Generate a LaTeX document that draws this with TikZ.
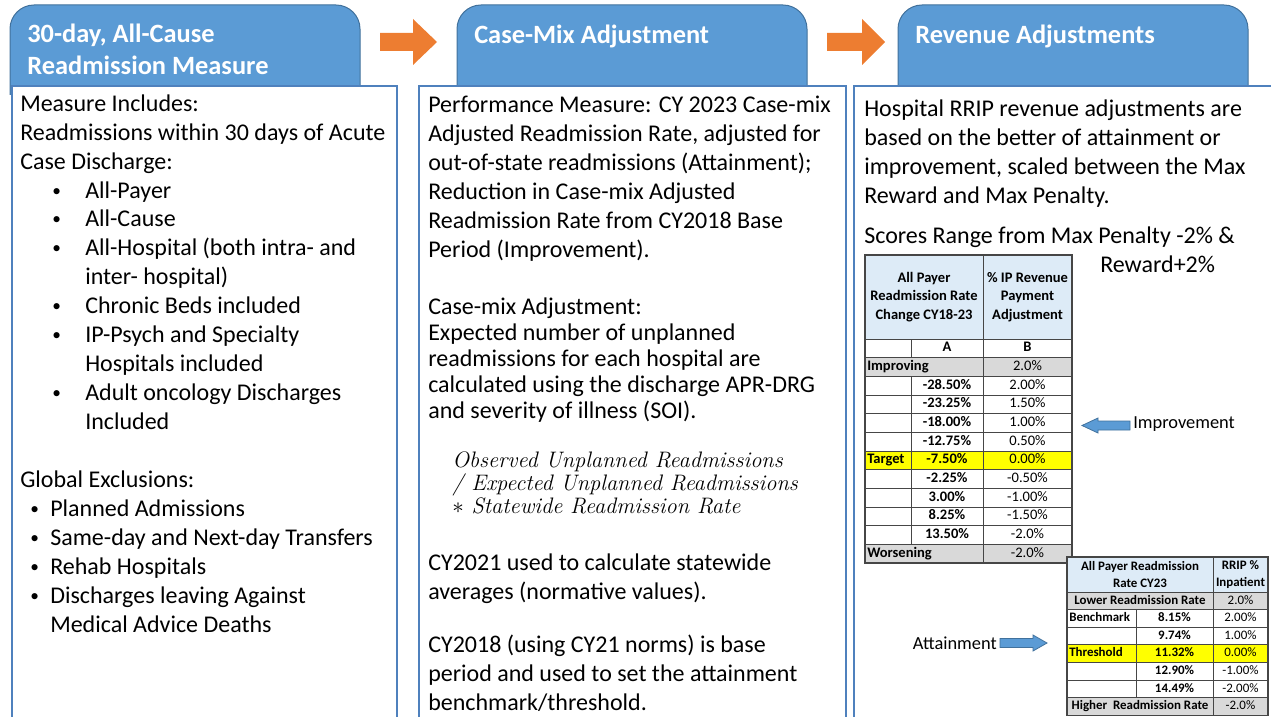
\documentclass[tikz,border=0pt]{standalone}
\usepackage{fontspec}
\usepackage{tikz}
\newfontfamily\calibri{Carlito}
\definecolor{tabblue}{RGB}{91,155,213}
\definecolor{tabedge}{RGB}{65,113,156}
\definecolor{boxedge}{RGB}{79,129,189}
\definecolor{arrorange}{RGB}{237,125,49}
\definecolor{hdrblue}{RGB}{221,235,247}
\definecolor{cellgray}{RGB}{217,217,217}
\definecolor{cellyellow}{RGB}{255,255,0}
\definecolor{gridgray}{RGB}{70,70,70}
\newcommand{\dotmark}{\raisebox{1.5pt}{\fontsize{13}{13}\selectfont\textbullet}}
\newcommand{\bulin}{\hspace*{24pt}\makebox[24.75pt][l]{\dotmark}}
\newcommand{\bulcont}{\hspace*{48.75pt}}
\newcommand{\bulout}{\hspace*{7.5pt}\makebox[15pt][l]{\dotmark}}

\begin{document}
\begin{tikzpicture}[x=0.75pt, y=-0.75pt,
    tab/.style={fill=tabblue, draw=tabedge, line width=0.75pt, rounded corners=18pt},
    panel/.style={fill=white, draw=boxedge, line width=0.9pt},
    tabtext/.style={anchor=base west, align=left, inner sep=0pt, text=white,
        font=\calibri\bfseries\fontsize{19.8}{24}\selectfont},
    body/.style={anchor=base west, align=left, inner sep=0pt,
        font=\calibri\fontsize{18}{21.7}\selectfont},
    grid/.style={draw=gridgray, line width=0.5pt},
    thead/.style={inner sep=0pt, align=center, font=\calibri\bfseries\fontsize{10.9}{13.7}\selectfont},
    tcell/.style={inner sep=0pt, text height=7.6pt, text depth=2.2pt, font=\calibri\fontsize{10.9}{13.7}\selectfont},
    tbold/.style={tcell, font=\calibri\bfseries\fontsize{10.9}{13.7}\selectfont},
    shead/.style={inner sep=0pt, align=center, font=\calibri\bfseries\fontsize{9.7}{12.75}\selectfont},
    scell/.style={inner sep=0pt, text height=6.8pt, text depth=2pt, font=\calibri\fontsize{9.7}{12.75}\selectfont},
    sbold/.style={scell, font=\calibri\bfseries\fontsize{9.7}{12.75}\selectfont},
    flowarrow/.style={fill=arrorange},
    bluearrow/.style={fill=tabblue, draw=tabedge, line width=0.6pt},
    note/.style={inner sep=0pt, font=\calibri\fontsize{13.8}{16}\selectfont}]
\useasboundingbox (0,0) rectangle (1271,717);

% header tabs
\filldraw[tab] (10,95) -- (10,5) -- (360,5) -- (360,95);
\filldraw[tab] (457,95) -- (457,5) -- (807,5) -- (807,95);
\filldraw[tab] (898,95) -- (898,5) -- (1248,5) -- (1248,95);
% multi-line nodes sit on the baseline of their last line
\node[tabtext] (tabmeasure) at (27,74.5) {30-day, All-Cause\\Readmission Measure};
\node[tabtext] (tabcasemix) at (474,43.5) {Case-Mix Adjustment};
\node[tabtext] (tabrevenue) at (915,43.5) {Revenue Adjustments};

% orange flow arrows
\fill[flowarrow] (380,33) -- (413,33) -- (413,19) -- (437,42) -- (413,65) -- (413,51) -- (380,51) -- cycle;
\fill[flowarrow] (827,33) -- (862,33) -- (862,19) -- (885,42) -- (862,65) -- (862,51) -- (827,51) -- cycle;

% panels
\draw[panel] (12,86) rectangle (397,730);
\draw[panel] (419,86) rectangle (846,730);
\draw[panel] (854,86) rectangle (1290,730);

% measure panel
\node[body] (includes) at (20,632) {Measure Includes:\\
  Readmissions within 30 days of Acute\\
  Case Discharge:\\
  \bulin All-Payer\\
  \bulin All-Cause\\
  \bulin All-Hospital (both intra- and\\
  \bulcont inter- hospital)\\
  \bulin Chronic Beds included\\
  \bulin IP-Psych and Specialty\\
  \bulcont Hospitals included\\
  \bulin Adult oncology Discharges\\
  \bulcont Included\\[21.7pt]
  Global Exclusions:\\
  \bulout Planned Admissions\\
  \bulout Same-day and Next-day Transfers\\
  \bulout Rehab Hospitals\\
  \bulout Discharges leaving Against\\
  \hspace*{22.5pt}Medical Advice Deaths};

% case-mix panel
\node[body] (perf) at (428,257) {Performance Measure: CY 2023 Case-mix\\
  Adjusted Readmission Rate, adjusted for\\
  out-of-state readmissions (Attainment);\\
  Reduction in Case-mix Adjusted\\
  Readmission Rate from CY2018 Base\\
  Period (Improvement).};
\node[body, font=\calibri\fontsize{18}{19.5}\selectfont] (cmix) at (428,418) {Case-mix Adjustment:\\
  Expected number of unplanned\\
  readmissions for each hospital are\\
  calculated using the discharge APR-DRG\\
  and severity of illness (SOI).};
\node[body, font=\rmfamily\itshape\fontsize{16.8}{17.2}\selectfont] (formula) at (452,513) {Observed Unplanned Readmissions\\
  / Expected Unplanned Readmissions\\
  $\ast$ Statewide Readmission Rate};
\node[body] (norms) at (428,599) {CY2021 used to calculate statewide\\
  averages (normative values).};
\node[body] (base) at (428,710) {CY2018 (using CY21 norms) is base\\
  period and used to set the attainment\\
  benchmark/threshold.};

% revenue panel
\node[body] (rrip) at (864,203) {Hospital RRIP revenue adjustments are\\
  based on the better of attainment or\\
  improvement, scaled between the Max\\
  Reward and Max Penalty.};
\node[body] (scores) at (864,243) {Scores Range from Max Penalty -2\% \&};
\node[body] (reward) at (1100,272) {Reward+2\%};

% improvement table
\fill[hdrblue] (865,255) rectangle (1072,339);
\fill[cellgray] (865,357.7) rectangle (1072,376.3);
\fill[cellgray] (865,544.3) rectangle (1072,563);
\fill[cellyellow] (865,451) rectangle (1072,469.7);
\foreach \k in {0,...,12}
  \draw[grid] (865,{339+18.67*\k}) -- (1072,{339+18.67*\k});
\draw[grid] (983,255) -- (983,563);
\draw[grid] (911,339) -- (911,357.7) (911,376.3) -- (911,544.3);
\draw[grid, line width=0.8pt] (865,255) rectangle (1072,563);
\node[thead] (impheadA) at (924,297) {All Payer\\Readmission Rate\\Change CY18-23};
\node[thead] (impheadB) at (1027.5,297) {\% IP Revenue\\Payment\\Adjustment};
\node[tbold] (impcolA) at (947,348.3) {A};
\node[tbold] (impcolB) at (1027.5,348.3) {B};
\node[tbold, anchor=west] (improving) at (867,367) {Improving};
\node[tcell] (improvingB) at (1027.5,367) {2.0\%};
\foreach \a/\b [count=\i from 2] in {-28.50\%/2.00\%, -23.25\%/1.50\%, -18.00\%/1.00\%,
    -12.75\%/0.50\%, -7.50\%/0.00\%, -2.25\%/-0.50\%, 3.00\%/-1.00\%, 8.25\%/-1.50\%, 13.50\%/-2.0\%} {
  \node[tbold] (impA\i) at (947,{339+18.67*(\i+0.5)}) {\a};
  \node[tcell] (impB\i) at (1027.5,{339+18.67*(\i+0.5)}) {\b};
}
\node[tbold, anchor=west] (target) at (867,460.3) {Target};
\node[tbold, anchor=west] (worsening) at (867,553.7) {Worsening};
\node[tcell] (worseningB) at (1027.5,553.7) {-2.0\%};

% attainment table
\fill[white] (1067,557) rectangle (1268,715.2);
\fill[hdrblue] (1067,557) rectangle (1268,592);
\fill[cellgray] (1067,592) rectangle (1268,609.6);
\fill[cellgray] (1067,697.6) rectangle (1268,715.2);
\fill[cellyellow] (1067,644.8) rectangle (1268,662.4);
\draw[grid] (1067,592) -- (1268,592);
\foreach \k in {1,...,6}
  \draw[grid] (1067,{592+17.6*\k}) -- (1268,{592+17.6*\k});
\draw[grid] (1213,557) -- (1213,715.2);
\draw[grid] (1136,609.6) -- (1136,697.6);
\draw[grid, line width=0.8pt] (1067,557) rectangle (1268,715.2);
\node[shead] (attheadA) at (1140,574.5) {All Payer Readmission\\Rate CY23};
\node[shead] (attheadB) at (1240.5,574.5) {RRIP \%\\Inpatient};
\node[sbold] (lower) at (1140,600.8) {Lower Readmission Rate};
\node[scell] (lowerB) at (1240.5,600.8) {2.0\%};
\foreach \a/\b [count=\i] in {8.15\%/2.00\%, 9.74\%/1.00\%, 11.32\%/0.00\%, 12.90\%/-1.00\%, 14.49\%/-2.00\%} {
  \node[sbold] (attA\i) at (1174.5,{592+17.6*(\i+0.5)}) {\a};
  \node[scell] (attB\i) at (1240.5,{592+17.6*(\i+0.5)}) {\b};
}
\node[sbold, anchor=west] (benchmark) at (1069,618.4) {Benchmark};
\node[sbold, anchor=west] (threshold) at (1069,653.6) {Threshold};
\node[sbold] (higher) at (1140,706.4) {Higher\ \ Readmission Rate};
\node[scell] (higherB) at (1240.5,706.4) {-2.0\%};

% pointer arrows
\filldraw[bluearrow] (1082,425.5) -- (1098,418) -- (1098,421) -- (1130,421) -- (1130,430) -- (1098,430) -- (1098,433) -- cycle;
\node[note, anchor=west] (improvement) at (1133,424) {Improvement};
\filldraw[bluearrow] (1000,638.5) -- (1033,638.5) -- (1033,635) -- (1047,643) -- (1033,651) -- (1033,647.5) -- (1000,647.5) -- cycle;
\node[note, anchor=east] (attainment) at (997,643) {Attainment};
\end{tikzpicture}
\end{document}
